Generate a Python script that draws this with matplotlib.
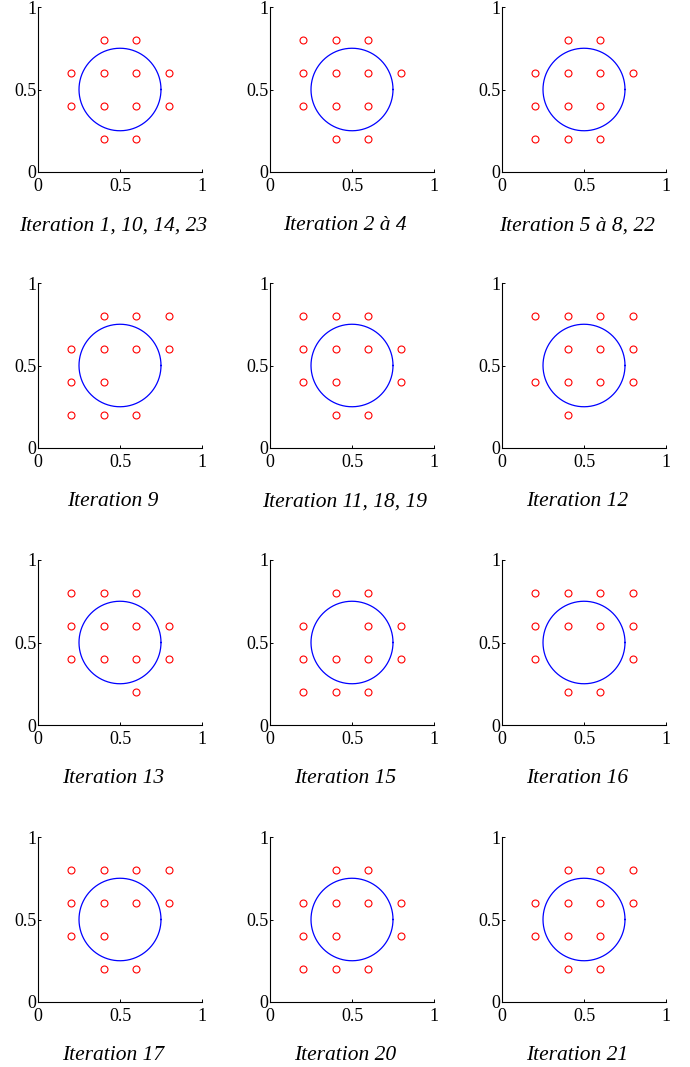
import numpy as np
import matplotlib.pyplot as plt

plt.rcParams['font.family'] = ['Liberation Serif', 'DejaVu Serif']

titles = ['Iteration 1, 10, 14, 23', 'Iteration 2 à 4', 'Iteration 5 à 8, 22',
          'Iteration 9', 'Iteration 11, 18, 19', 'Iteration 12',
          'Iteration 13', 'Iteration 15', 'Iteration 16',
          'Iteration 17', 'Iteration 20', 'Iteration 21']

# red points for each panel, (x, y)
pts_1 = [(0.4, 0.8), (0.6, 0.8),
         (0.2, 0.6), (0.4, 0.6), (0.6, 0.6), (0.8, 0.6),
         (0.2, 0.4), (0.4, 0.4), (0.6, 0.4), (0.8, 0.4),
         (0.4, 0.2), (0.6, 0.2)]
pts_2 = [(0.2, 0.8), (0.4, 0.8), (0.6, 0.8),
         (0.2, 0.6), (0.4, 0.6), (0.6, 0.6), (0.8, 0.6),
         (0.2, 0.4), (0.4, 0.4), (0.6, 0.4),
         (0.4, 0.2), (0.6, 0.2)]
pts_3 = [(0.4, 0.8), (0.6, 0.8),
         (0.2, 0.6), (0.4, 0.6), (0.6, 0.6), (0.8, 0.6),
         (0.2, 0.4), (0.4, 0.4), (0.6, 0.4),
         (0.2, 0.2), (0.4, 0.2), (0.6, 0.2)]
pts_4 = [(0.4, 0.8), (0.6, 0.8), (0.8, 0.8),
         (0.2, 0.6), (0.4, 0.6), (0.6, 0.6), (0.8, 0.6),
         (0.2, 0.4), (0.4, 0.4),
         (0.2, 0.2), (0.4, 0.2), (0.6, 0.2)]
pts_5 = [(0.2, 0.8), (0.4, 0.8), (0.6, 0.8),
         (0.2, 0.6), (0.4, 0.6), (0.6, 0.6), (0.8, 0.6),
         (0.2, 0.4), (0.4, 0.4), (0.8, 0.4),
         (0.4, 0.2), (0.6, 0.2)]
pts_6 = [(0.2, 0.8), (0.4, 0.8), (0.6, 0.8), (0.8, 0.8),
         (0.4, 0.6), (0.6, 0.6), (0.8, 0.6),
         (0.2, 0.4), (0.4, 0.4), (0.6, 0.4), (0.8, 0.4),
         (0.4, 0.2)]
pts_7 = [(0.2, 0.8), (0.4, 0.8), (0.6, 0.8),
         (0.2, 0.6), (0.4, 0.6), (0.6, 0.6), (0.8, 0.6),
         (0.2, 0.4), (0.4, 0.4), (0.6, 0.4), (0.8, 0.4),
         (0.6, 0.2)]
pts_8 = [(0.4, 0.8), (0.6, 0.8),
         (0.2, 0.6), (0.6, 0.6), (0.8, 0.6),
         (0.2, 0.4), (0.4, 0.4), (0.6, 0.4), (0.8, 0.4),
         (0.2, 0.2), (0.4, 0.2), (0.6, 0.2)]
pts_9 = [(0.2, 0.8), (0.4, 0.8), (0.6, 0.8), (0.8, 0.8),
         (0.2, 0.6), (0.4, 0.6), (0.6, 0.6), (0.8, 0.6),
         (0.2, 0.4), (0.8, 0.4),
         (0.4, 0.2), (0.6, 0.2)]
pts_10 = [(0.2, 0.8), (0.4, 0.8), (0.6, 0.8), (0.8, 0.8),
          (0.2, 0.6), (0.4, 0.6), (0.6, 0.6), (0.8, 0.6),
          (0.2, 0.4), (0.4, 0.4),
          (0.4, 0.2), (0.6, 0.2)]
pts_11 = [(0.4, 0.8), (0.6, 0.8),
          (0.2, 0.6), (0.4, 0.6), (0.6, 0.6), (0.8, 0.6),
          (0.2, 0.4), (0.4, 0.4), (0.8, 0.4),
          (0.2, 0.2), (0.4, 0.2), (0.6, 0.2)]
pts_12 = [(0.4, 0.8), (0.6, 0.8), (0.8, 0.8),
          (0.2, 0.6), (0.4, 0.6), (0.6, 0.6), (0.8, 0.6),
          (0.2, 0.4), (0.4, 0.4), (0.6, 0.4),
          (0.4, 0.2), (0.6, 0.2)]

panels = [pts_1, pts_2, pts_3, pts_4, pts_5, pts_6,
          pts_7, pts_8, pts_9, pts_10, pts_11, pts_12]

circle_center = (0.5, 0.5)
circle_radius = 0.25

W, H = 690, 1067
fig = plt.figure(figsize=(W / 100, H / 100), dpi=100)

col_left = [38, 270, 502]
row_top = [7, 283, 560, 837]
ax_w, ax_h = 164, 165

t = np.linspace(0, 2 * np.pi, 400)
for i, (pts, title) in enumerate(zip(panels, titles)):
    r, c = divmod(i, 3)
    x0, y0 = col_left[c], row_top[r]
    ax = fig.add_axes([x0 / W, 1 - (y0 + ax_h) / H, ax_w / W, ax_h / H])
    ax.plot(circle_center[0] + circle_radius * np.cos(t),
            circle_center[1] + circle_radius * np.sin(t), color='blue', lw=0.9)
    px = [p[0] for p in pts]
    py = [p[1] for p in pts]
    ax.plot(px, py, 'o', mfc='none', mec='red', ms=5, mew=0.8)
    ax.set_xlim(0, 1)
    ax.set_ylim(0, 1)
    ax.set_xticks([0, 0.5, 1])
    ax.set_yticks([0, 0.5, 1])
    ax.set_xticklabels(['0', '0.5', '1'])
    ax.set_yticklabels(['0', '0.5', '1'])
    ax.spines['top'].set_visible(False)
    ax.spines['right'].set_visible(False)
    for s in ('left', 'bottom'):
        ax.spines[s].set_linewidth(0.8)
    ax.tick_params(direction='in', length=2.5, width=0.7, labelsize=13)
    ax.tick_params(axis='x', pad=4)
    ax.tick_params(axis='y', pad=1)
    ax.text(0.5 - 7 / ax_w, -0.325, title, transform=ax.transAxes,
            ha='center', va='center', fontsize=15.5, style='italic')

plt.savefig('out.png', dpi=100)
